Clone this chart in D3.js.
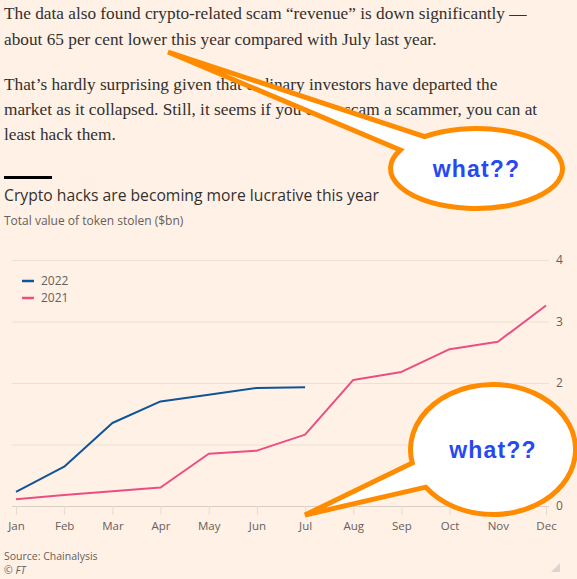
<!DOCTYPE html>
<html>
<head>
<meta charset="utf-8">
<script src="https://cdn.jsdelivr.net/npm/d3@7"></script>
<style>
  html, body { margin: 0; padding: 0; background: #fff1e5; }
  svg { display: block; }
</style>
</head>
<body>
<div id="chart"></div>
<script>
// Data
const months = ["Jan", "Feb", "Mar", "Apr", "May", "Jun", "Jul", "Aug", "Sep", "Oct", "Nov", "Dec"];
const stolen2022 = [0.23, 0.64, 1.35, 1.70, 1.81, 1.92, 1.93];
const stolen2021 = [0.11, 0.18, 0.24, 0.30, 0.85, 0.90, 1.16, 2.05, 2.18, 2.55, 2.67, 3.26];
const yTicks = [0, 1, 2, 3, 4];
const seriesNames = ["2022", "2021"];
const seriesColors = ["#0f5499", "#ec4d83"];

const bodyLines = [
  "The data also found crypto-related scam \u201crevenue\u201d is down significantly \u2014",
  "about 65 per cent lower this year compared with July last year.",
  "",
  "That\u2019s hardly surprising given that ordinary investors have departed the",
  "market as it collapsed. Still, it seems if you can\u2019t scam a scammer, you can at",
  "least hack them."
];

const W = 577, H = 579;
const svg = d3.select("#chart").append("svg")
  .attr("width", W).attr("height", H);

svg.append("rect").attr("width", W).attr("height", H).attr("fill", "#fff1e5");

// Article text above the chart
const body = svg.append("text")
  .attr("font-family", "Liberation Serif, Georgia, serif")
  .attr("font-size", 17)
  .attr("fill", "#33302e");
const baselines = [19, 45, 0, 90, 115, 140];
bodyLines.forEach((t, i) => {
  if (!t) return;
  body.append("tspan").attr("x", 4).attr("y", baselines[i]).text(t);
});
// size the paragraph so the first line ends where it does in the article (~x=527)
const firstLen = body.select("tspan").node().getComputedTextLength();
body.attr("font-size", 17 * 523 / firstLen);

// Header
svg.append("rect").attr("x", 4).attr("y", 176).attr("width", 48).attr("height", 3).attr("fill", "#000");
svg.append("text").attr("x", 4).attr("y", 201)
  .attr("font-family", "Open Sans").attr("font-size", 15.7).attr("fill", "#33302e")
  .text("Crypto hacks are becoming more lucrative this year");
svg.append("text").attr("x", 4).attr("y", 225)
  .attr("font-family", "Open Sans").attr("font-size", 12).attr("fill", "#66605c")
  .text("Total value of token stolen ($bn)");

// Scales
const x = d3.scalePoint().domain(months).range([16, 546]);
const y = d3.scaleLinear().domain([0, 4]).range([506, 260]);
const left = 12, right = 549;

// y axis with gridlines
const yAxis = svg.append("g")
  .attr("transform", `translate(${right},0)`)
  .call(d3.axisRight(y).tickValues(yTicks).tickFormat(d3.format("d"))
    .tickSize(-(right - left)).tickPadding(7));
yAxis.select(".domain").remove();
yAxis.selectAll(".tick line").attr("stroke", "#ebe0d6");
yAxis.selectAll(".tick").filter(d => d === 0).select("line").attr("stroke", "#d9cec4");
yAxis.selectAll("text").attr("font-family", "Open Sans").attr("font-size", 12).attr("fill", "#66605c");

// x axis
const xAxis = svg.append("g")
  .attr("transform", `translate(0,${y(0)})`)
  .call(d3.axisBottom(x).tickSize(9).tickPadding(7));
xAxis.select(".domain").remove();
xAxis.selectAll(".tick line").attr("stroke", "#e6dbd1");
xAxis.selectAll("text").attr("font-family", "Open Sans").attr("font-size", 11.5).attr("fill", "#66605c");

// Lines
const line = d3.line().x((d, i) => x(months[i])).y(d => y(d));
[stolen2021, stolen2022].forEach((vals, k) => {
  svg.append("path")
    .datum(vals)
    .attr("d", line)
    .attr("fill", "none")
    .attr("stroke", seriesColors[1 - k])
    .attr("stroke-width", 2)
    .attr("stroke-linejoin", "round");
});

// Legend
const legend = svg.append("g").attr("transform", "translate(22,281)");
seriesNames.forEach((name, i) => {
  const g = legend.append("g").attr("transform", `translate(0,${i * 17})`);
  g.append("line").attr("x1", 0).attr("x2", 12).attr("stroke", seriesColors[i]).attr("stroke-width", 2.5);
  g.append("text").attr("x", 19).attr("dy", "0.35em")
    .attr("font-family", "Open Sans").attr("font-size", 12).attr("fill", "#66605c")
    .text(name);
});

// Source
svg.append("text").attr("x", 4).attr("y", 560)
  .attr("font-family", "Open Sans").attr("font-size", 10.5).attr("fill", "#66605c")
  .text("Source: Chainalysis");
svg.append("text").attr("x", 4).attr("y", 574)
  .attr("font-family", "Open Sans").attr("font-size", 10.5).attr("font-style", "italic").attr("fill", "#66605c")
  .text("\u00a9 FT");

// little resize grip in the corner
svg.append("path").attr("d", "M560,563 L560,572 L551,572 Z").attr("fill", "#dcd5cf");

// Speech bubbles drawn on top
function bubble(cx, cy, rx, ry, a, b, tip) {
  const onEllipse = p => {
    const t = Math.atan2((p[1] - cy) / ry, (p[0] - cx) / rx);
    return [cx + rx * Math.cos(t), cy + ry * Math.sin(t)];
  };
  const pa = onEllipse(a), pb = onEllipse(b);
  const p = `M${pa[0]},${pa[1]} A${rx},${ry} 0 1 1 ${pb[0]},${pb[1]} L${tip[0]},${tip[1]} Z`;
  svg.append("path").attr("d", p)
    .attr("fill", "#fff").attr("stroke", "#ff8c00").attr("stroke-width", 5)
    .attr("stroke-linejoin", "miter");
  svg.append("text").attr("x", cx).attr("y", cy + 8.5)
    .attr("text-anchor", "middle")
    .attr("font-family", "Liberation Sans").attr("font-weight", "bold")
    .attr("font-size", 23).attr("letter-spacing", 1.2).attr("fill", "#2649f2")
    .text("what??");
}
bubble(476.5, 168.5, 86, 40, [422, 135], [400, 150], [168, 52]);
bubble(493, 449.5, 82.5, 65, [412, 463], [426, 487], [305, 515]);
</script>
</body>
</html>
